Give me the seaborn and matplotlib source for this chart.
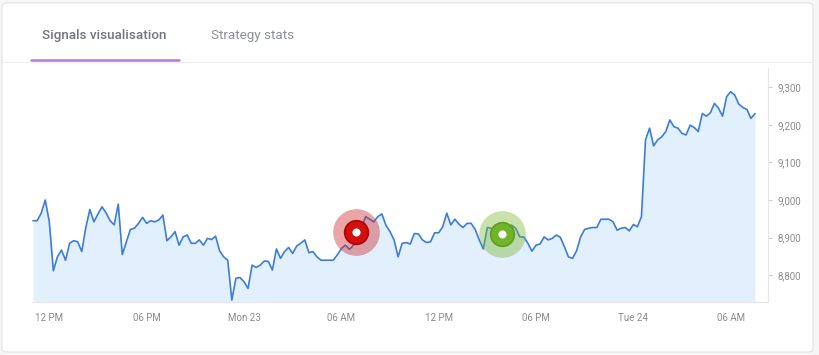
import numpy as np
import pandas as pd
import seaborn as sns
import matplotlib
matplotlib.use("Agg")
import matplotlib.pyplot as plt
from matplotlib.patches import FancyBboxPatch
from matplotlib.lines import Line2D
from matplotlib.ticker import FuncFormatter

# Price series, 15 minute steps from Sun 22 11:00 to Tue 24 07:30
start_time = "2019-09-22 11:00"
step = "15min"
prices = [
    8945, 8945, 8965, 9000, 8942, 8812, 8849, 8867, 8840, 8885,
    8892, 8889, 8863, 8927, 8975, 8942, 8963, 8982, 8966, 8945,
    8934, 8989, 8855, 8889, 8922, 8925, 8938, 8954, 8938, 8945,
    8942, 8947, 8960, 8892, 8902, 8916, 8880, 8902, 8907, 8885,
    8885, 8894, 8880, 8898, 8895, 8904, 8865, 8849, 8840, 8734,
    8792, 8794, 8783, 8765, 8827, 8821, 8827, 8838, 8837, 8814,
    8870, 8845, 8863, 8874, 8858, 8878, 8885, 8894, 8860, 8863,
    8849, 8840, 8840, 8840, 8840, 8854, 8871, 8880, 8869, 8880,
    8902, 8927, 8956, 8949, 8942, 8956, 8963, 8933, 8916, 8894,
    8849, 8885, 8887, 8883, 8911, 8910, 8894, 8887, 8889, 8913,
    8913, 8929, 8965, 8934, 8949, 8936, 8927, 8938, 8938, 8922,
    8894, 8870, 8927, 8925, 8916, 8911, 8913, 8931, 8933, 8925,
    8902, 8902, 8885, 8864, 8880, 8883, 8902, 8894, 8898, 8907,
    8901, 8876, 8849, 8845, 8865, 8902, 8922, 8925, 8927, 8927,
    8949, 8949, 8949, 8942, 8920, 8925, 8927, 8918, 8935, 8929,
    8956, 9160, 9191, 9144, 9160, 9168, 9182, 9213, 9195, 9191,
    9177, 9173, 9199, 9193, 9182, 9230, 9223, 9232, 9257, 9244,
    9223, 9275, 9288, 9279, 9255, 9246, 9241, 9217, 9230,
]

# Signals
sell_time = ["2019-09-23 06:54"]
sell_price = [8914]
buy_time = ["2019-09-23 15:55"]
buy_price = [8911]

tick_times = ["2019-09-22 12:00", "2019-09-22 18:00", "2019-09-23 00:00",
              "2019-09-23 06:00", "2019-09-23 12:00", "2019-09-23 18:00",
              "2019-09-24 00:00", "2019-09-24 06:00"]
tick_labels = ["12 PM", "06 PM", "Mon 23", "06 AM", "12 PM", "06 PM",
               "Tue 24", "06 AM"]
y_ticks = [8800, 8900, 9000, 9100, 9200, 9300]

df = pd.DataFrame({"time": pd.date_range(start_time, periods=len(prices), freq=step),
                   "price": prices})

sns.set_style("white")
plt.rcParams["font.family"] = ["Roboto", "DejaVu Sans"]

W, H = 820, 355
fig = plt.figure(figsize=(W / 100, H / 100), dpi=100, facecolor="#f6f6f6")


def px(x, y):
    return x / 100, (H - y) / 100


# card
card = FancyBboxPatch(px(2, 352), 811 / 100, 349 / 100,
                      boxstyle="round,pad=0,rounding_size=0.04",
                      transform=fig.dpi_scale_trans, fc="white", ec="#e2e2e2",
                      lw=0.8, zorder=-5)
fig.patches.append(card)

# tabs
fig.text(42 / W, 1 - 36 / H, "Signals visualisation", fontsize=9.7,
         fontweight="medium", color="#6f7680", va="center", ha="left")
fig.text(211 / W, 1 - 36 / H, "Strategy stats", fontsize=9.7,
         color="#8b9098", va="center", ha="left")
fig.lines.append(Line2D([3 / W, 812 / W], [1 - 61.5 / H] * 2,
                        transform=fig.transFigure, color="#eeeeee", lw=0.8))
fig.lines.append(Line2D([31 / W, 179 / W], [1 - 59.5 / H] * 2,
                        transform=fig.transFigure, color="#b07cd8", lw=1.8))

ax = fig.add_axes([32 / W, 1 - 302 / H, 736 / W, 234 / H])
ax.set_facecolor("none")
ax.set_zorder(2)

ax.fill_between(df["time"], df["price"], 8700, color="#e2effd", lw=0, zorder=1)
sns.lineplot(data=df, x="time", y="price", ax=ax, color="#3b7dd8",
             lw=1.2, zorder=2)

# signal markers
for t, p, halo, core, edge in [(sell_time, sell_price, "#cc2222", "#d40f0f", "#b30000"),
                               (buy_time, buy_price, "#78b52c", "#70b528", "#5e9d1f")]:
    sig = pd.DataFrame({"time": pd.to_datetime(t), "price": p})
    sns.scatterplot(data=sig, x="time", y="price", ax=ax, s=1130, color=halo,
                    alpha=0.4, linewidth=0, zorder=3)
    sns.scatterplot(data=sig, x="time", y="price", ax=ax, s=290, color=core,
                    edgecolor=edge, linewidth=1.2, zorder=4)
    sns.scatterplot(data=sig, x="time", y="price", ax=ax, s=34, color="white",
                    linewidth=0, zorder=5)

ax.set_xlim(pd.Timestamp("2019-09-22 10:56"), pd.Timestamp("2019-09-24 08:18"))
ax.set_ylim(8729, 9351)
ax.set_xticks(pd.to_datetime(tick_times))
ax.set_xticklabels(tick_labels)
ax.set_yticks(y_ticks)
ax.yaxis.set_major_formatter(FuncFormatter(lambda v, _: f"{v:,.0f}"))
ax.yaxis.tick_right()
ax.set_xlabel("")
ax.set_ylabel("")

for side in ["left", "top"]:
    ax.spines[side].set_visible(False)
for side in ["right", "bottom"]:
    ax.spines[side].set_color("#e6e6e6")
    ax.spines[side].set_linewidth(0.8)

ax.tick_params(axis="both", which="major", length=3, width=0.8,
               color="#cfcfcf", labelcolor="#8a8a8a", labelsize=7)
ax.tick_params(axis="x", pad=5)
ax.tick_params(axis="y", pad=4, left=False, right=True)

fig.savefig("out.png", dpi=100, facecolor=fig.get_facecolor())
